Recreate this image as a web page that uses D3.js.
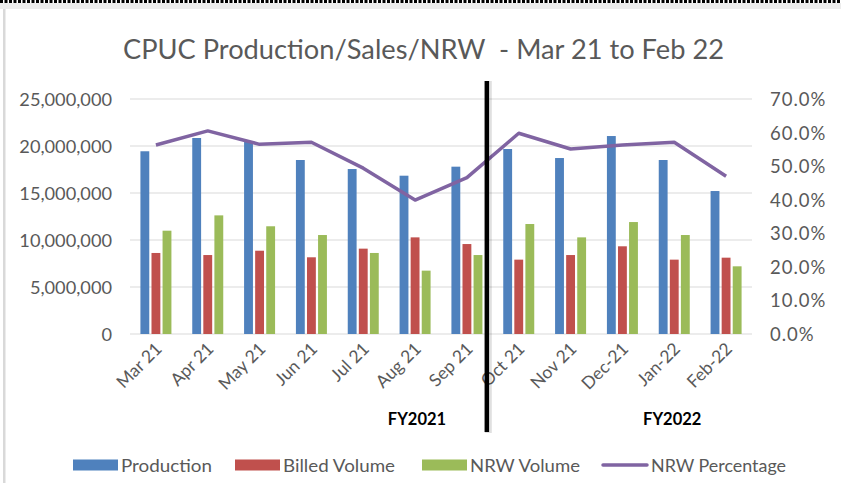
<!DOCTYPE html>
<html><head><meta charset="utf-8">
<script src="https://cdn.jsdelivr.net/npm/d3@7"></script>
<style>body{margin:0;background:#fff;} svg{display:block;}</style>
</head><body><svg id="c" width="841" height="483"></svg>
<script>
const months = ["Mar 21","Apr 21","May 21","Jun 21","Jul 21","Aug 21","Sep 21","Oct 21","Nov 21","Dec-21","Jan-22","Feb-22"];
const production = [19440000,20850000,20450000,18510000,17550000,16840000,17800000,19680000,18720000,21060000,18510000,15210000];
const billedVolume = [8620000,8400000,8860000,8160000,9080000,10280000,9570000,7910000,8400000,9330000,7910000,8120000];
const nrwVolume = [10990000,12620000,11460000,10530000,8620000,6740000,8400000,11700000,10280000,11910000,10530000,7200000];
const nrwPercentage = [0.563,0.605,0.565,0.571,0.494,0.399,0.466,0.598,0.551,0.563,0.571,0.470];
const leftTicks = [0,5000000,10000000,15000000,20000000,25000000];
const rightTicks = [0,0.1,0.2,0.3,0.4,0.5,0.6,0.7];
const seriesNames = ["Production","Billed Volume","NRW Volume","NRW Percentage"];
const fyLabels = ["FY2021","FY2022"];
const title = "CPUC Production/Sales/NRW  - Mar 21 to Feb 22";

const colors = {"Production":"#4F81BD","Billed Volume":"#C0504D","NRW Volume":"#9BBB59","NRW Percentage":"#8064A2"};
const svg = d3.select("#c");
const font = "Lato, 'Open Sans', sans-serif";
const textCol = "#595959";

// frame
svg.append("rect").attr("x",0).attr("y",3).attr("width",841).attr("height",6).attr("fill","#ececec");
svg.append("line").attr("x1",0).attr("x2",841).attr("y1",1.5).attr("y2",1.5)
  .attr("stroke","#000").attr("stroke-width",3).attr("stroke-dasharray","3,1.5");
svg.append("rect").attr("x",3).attr("y",9).attr("width",2.5).attr("height",474).attr("fill","#d9d9d9");

const x = d3.scaleBand().domain(months).range([130,752]);
const yL = d3.scaleLinear().domain([0,25000000]).range([334,99]);
const yR = d3.scaleLinear().domain([0,0.7]).range([334,99]);
const barSeries = ["Production","Billed Volume","NRW Volume"];
const xi = d3.scaleBand().domain(barSeries).range([-15.5,15.5]).paddingInner(0.2);

// gridlines
svg.append("g").selectAll("line").data(leftTicks).join("line")
  .attr("x1",130).attr("x2",752).attr("y1",d=>yL(d)).attr("y2",d=>yL(d))
  .attr("stroke","#d9d9d9").attr("stroke-width",1.2);

// axes
const axL = d3.axisLeft(yL).tickValues(leftTicks).tickFormat(d3.format(",")).tickSize(0).tickPadding(0);
const gL = svg.append("g").attr("transform","translate(112,0)").call(axL);
gL.select(".domain").remove();
gL.selectAll("text").attr("font-family",font).attr("font-size",18.2).attr("fill",textCol).attr("dy","0.35em");

const axR = d3.axisRight(yR).tickValues(rightTicks).tickFormat(d3.format(".1%")).tickSize(0).tickPadding(0);
const gR = svg.append("g").attr("transform","translate(770,0)").call(axR);
gR.select(".domain").remove();
gR.selectAll("text").attr("font-family",font).attr("font-size",18.5).attr("letter-spacing",1).attr("fill",textCol).attr("dy","0.35em");

// bars
const data = months.map((m,i)=>({m, "Production":production[i], "Billed Volume":billedVolume[i], "NRW Volume":nrwVolume[i]}));
const grp = svg.append("g").selectAll("g").data(data).join("g")
  .attr("transform",d=>`translate(${x(d.m)+x.bandwidth()/2},0)`);
grp.selectAll("rect").data(d=>barSeries.map(s=>({s,v:d[s]}))).join("rect")
  .attr("x",d=>xi(d.s)).attr("width",xi.bandwidth())
  .attr("y",d=>yL(d.v)).attr("height",d=>yL(0)-yL(d.v))
  .attr("fill",d=>colors[d.s]);

// line
const line = d3.line().x((d,i)=>x(months[i])+x.bandwidth()/2).y(d=>yR(d));
svg.append("path").datum(nrwPercentage).attr("d",line).attr("fill","none")
  .attr("stroke",colors["NRW Percentage"]).attr("stroke-width",3.5).attr("stroke-linejoin","round");

// x labels
svg.append("g").selectAll("text").data(months).join("text")
  .attr("transform",d=>`translate(${x(d)+x.bandwidth()/2+7},${350}) rotate(-45)`)
  .attr("text-anchor","end").attr("font-family",font).attr("font-size",17.5).attr("fill",textCol).text(d=>d);

// divider
const divX = x("Oct 21") - 6;
svg.append("line").attr("x1",divX+1.5).attr("x2",divX+1.5).attr("y1",81).attr("y2",433)
  .attr("stroke","#000").attr("stroke-opacity",0.12).attr("stroke-width",7);
svg.append("line").attr("x1",divX).attr("x2",divX).attr("y1",81).attr("y2",432)
  .attr("stroke","#000").attr("stroke-width",4.5);

// FY labels
const fyPos = [x("Aug 21")+x.bandwidth()-24, x("Jan-22")+x.bandwidth()/2-2];
svg.append("g").selectAll("text").data(fyLabels).join("text")
  .attr("x",(d,i)=>fyPos[i]).attr("y",425).attr("text-anchor","middle")
  .attr("font-family",font).attr("font-weight","bold").attr("font-size",16.5).attr("fill","#000").text(d=>d);

// title
svg.append("text").attr("x",423.5).attr("y",59).attr("text-anchor","middle")
  .attr("font-family",font).attr("font-size",26).attr("fill",textCol).style("white-space","pre")
  .attr("textLength",601).attr("lengthAdjust","spacingAndGlyphs").text(title);

// legend
const legX = [73,235,422,603];
const legW = [91,112,110,135];
const lg = svg.append("g").selectAll("g").data(seriesNames).join("g")
  .attr("transform",(d,i)=>`translate(${legX[i]},0)`);
lg.each(function(d,i){
  const g = d3.select(this);
  if (d === "NRW Percentage") {
    g.append("line").attr("x1",0).attr("x2",44).attr("y1",465).attr("y2",465)
      .attr("stroke",colors[d]).attr("stroke-width",3.5).attr("stroke-linecap","round");
  } else {
    g.append("rect").attr("x",0).attr("y",459.5).attr("width",45).attr("height",11).attr("fill",colors[d]);
  }
  g.append("text").attr("x",48).attr("y",472).attr("font-family",font).attr("font-size",18).attr("fill",textCol)
    .attr("textLength",legW[i]).attr("lengthAdjust","spacingAndGlyphs").text(d);
});
</script></body></html>
